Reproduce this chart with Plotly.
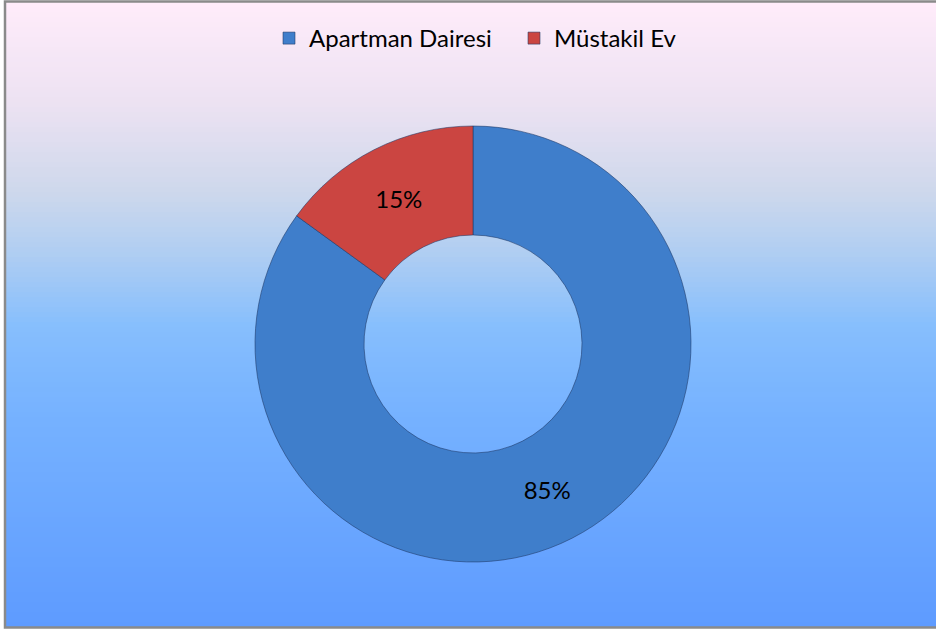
import plotly.graph_objects as go

labels = ["Apartman Dairesi", "Müstakil Ev"]
values = [85, 15]
slice_colors = ["#3F7ECB", "#CB4541"]

W, H = 936, 633

fig = go.Figure()

fig.add_trace(go.Pie(
    labels=labels,
    values=values,
    hole=0.5,
    sort=False,
    direction="clockwise",
    rotation=0,
    marker=dict(colors=slice_colors, line=dict(color="rgba(30,55,100,0.55)", width=1)),
    textinfo="percent",
    texttemplate="%{percent:.0%}",
    textposition="inside",
    insidetextorientation="horizontal",
    textfont=dict(family="Lato", size=24, color="#000000"),
    domain=dict(x=[255/W, 691/W], y=[1-562/H, 1-126/H]),
    showlegend=True,
))

# background gradient made of thin strips inside the framed box
stops = [(0.0, (255, 236, 250)), (0.16, (236, 226, 242)), (0.30, (206, 216, 236)),
         (0.40, (176, 206, 242)), (0.52, (134, 190, 253)), (0.66, (118, 178, 255)),
         (1.0, (94, 155, 255))]

def col(t):
    for (a, ca), (b, cb) in zip(stops[:-1], stops[1:]):
        if a <= t <= b:
            f = (t - a) / (b - a)
            return "rgb(%d,%d,%d)" % tuple(round(ca[i] + (cb[i] - ca[i]) * f) for i in range(3))
    return "rgb(94,155,255)"

top_px, bot_px = 2, 627
left_px = 6
n = 125
shapes = []
for i in range(n):
    y0 = top_px + (bot_px - top_px) * i / n
    y1 = top_px + (bot_px - top_px) * (i + 1) / n + 0.6
    shapes.append(dict(type="rect", xref="paper", yref="paper", layer="below",
                       x0=left_px / W, x1=1.01, y0=1 - y1 / H, y1=1 - y0 / H,
                       fillcolor=col(i / (n - 1)), line=dict(width=0)))
shapes.append(dict(type="rect", xref="paper", yref="paper", layer="below",
                   x0=5 / W, x1=1.02, y0=1 - 627.5 / H, y1=1 - 1.5 / H,
                   fillcolor="rgba(0,0,0,0)", line=dict(color="#8A8A8A", width=2.5)))

fig.update_layout(
    width=W, height=H,
    margin=dict(l=0, r=0, t=0, b=0),
    paper_bgcolor="white",
    shapes=shapes,
    legend=dict(orientation="h", x=269/W, xanchor="left", y=1 - 16/H, yanchor="top",
                font=dict(family="Lato", size=24, color="#000000"),
                bgcolor="rgba(0,0,0,0)", itemwidth=30, entrywidth=200,
                traceorder="normal"),
)

fig.write_html("out.html",
               config={"displayModeBar": False},
               post_script="document.body.style.margin='0';document.body.style.overflow='hidden';")
